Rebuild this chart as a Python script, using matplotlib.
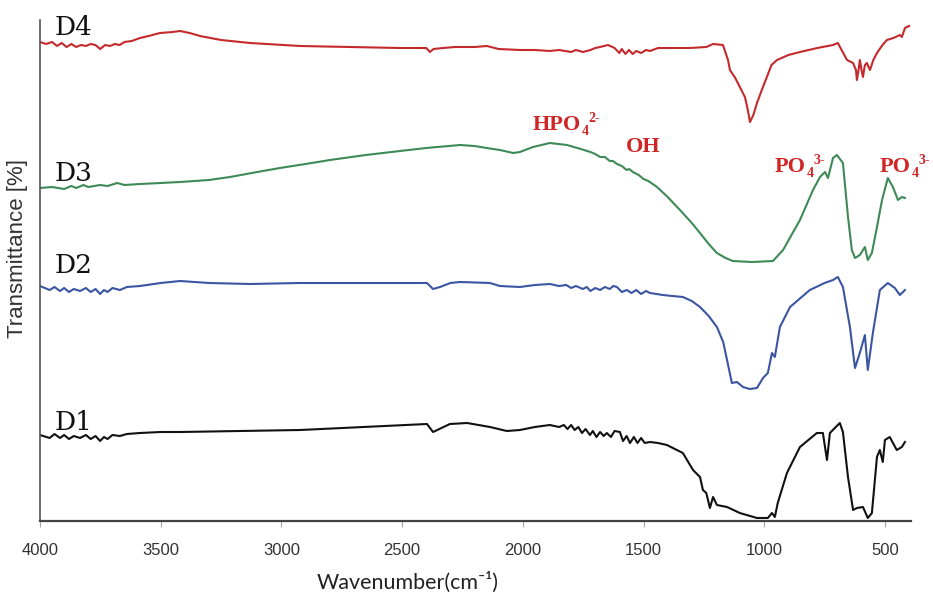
import matplotlib
matplotlib.use("Agg")
import matplotlib.pyplot as plt

# ---- data (wavenumber in cm-1, transmittance in arbitrary stacked units) ----
d4_wn = [4000, 3975, 3950, 3930, 3910, 3890, 3870, 3850, 3830, 3810, 3790, 3770, 3751, 3730, 3710,
         3690, 3670, 3650, 3620, 3586, 3550, 3503, 3450, 3420, 3380, 3337, 3250, 3130, 2923, 2716,
         2509, 2400, 2385, 2370, 2330, 2281, 2200, 2149, 2100, 2012, 1950, 1888, 1850, 1800, 1780,
         1751, 1720, 1700, 1680, 1647, 1620, 1600, 1590, 1575, 1560, 1545, 1530, 1510, 1490, 1473,
         1440, 1403, 1308, 1240, 1212, 1171, 1150, 1142, 1120, 1101, 1080, 1068, 1059, 1045, 1030,
         1010, 989, 970, 947, 900, 852, 780, 715, 695, 675, 657, 632, 620, 616, 608,
         604, 597, 591, 583, 575, 562, 548, 533, 510, 492, 465, 438, 430, 417, 400]
d4_t = [558, 556, 558, 554, 557, 553, 556, 553, 555, 554, 556, 555, 551, 555, 554,
        556, 555, 558, 559, 562, 564, 567, 568, 569, 567, 564, 560, 557, 554, 553,
        552, 552, 548, 551, 552, 553, 553, 554, 551, 550, 550, 549, 550, 548, 550,
        548, 550, 552, 553, 555, 552, 547, 551, 546, 550, 546, 549, 547, 550, 549,
        552, 552, 552, 553, 556, 555, 540, 530, 522, 513, 503, 490, 478, 485, 497,
        510, 523, 535, 540, 545, 548, 552, 555, 557, 548, 540, 537, 530, 520, 532,
        540, 530, 523, 535, 537, 530, 540, 547, 555, 560, 562, 565, 563, 572, 574]

d3_wn = [4000, 3950, 3900, 3870, 3850, 3820, 3800, 3751, 3720, 3680, 3650, 3586, 3500, 3420, 3300,
         3213, 3100, 3006, 2900, 2799, 2650, 2509, 2400, 2260, 2200, 2150, 2095, 2040, 2012, 1958,
         1888, 1817, 1760, 1720, 1700, 1680, 1660, 1640, 1627, 1610, 1590, 1570, 1560, 1544, 1520,
         1500, 1480, 1444, 1400, 1349, 1300, 1266, 1230, 1196, 1160, 1130, 1050, 964, 922, 852,
         798, 769, 748, 736, 715, 699, 674, 653, 637, 624, 604, 583, 571, 554, 533,
         512, 488, 467, 446, 430, 417]
d3_t = [412, 413, 411, 414, 412, 415, 413, 415, 414, 417, 415, 416, 417, 418, 420,
        423, 428, 432, 436, 440, 445, 449, 452, 455, 454, 452, 450, 447, 448, 453,
        457, 455, 451, 448, 446, 443, 443, 439, 439, 436, 434, 430, 431, 428, 425,
        421, 419, 413, 403, 390, 377, 367, 356, 347, 342, 339, 338, 339, 350, 380,
        410, 423, 428, 422, 442, 445, 437, 383, 350, 342, 345, 353, 340, 347, 373,
        400, 422, 413, 400, 403, 402]

d2_wn = [4000, 3960, 3940, 3917, 3900, 3880, 3860, 3834, 3810, 3790, 3770, 3751, 3735, 3720, 3700,
         3669, 3640, 3586, 3500, 3420, 3300, 3130, 2923, 2600, 2397, 2372, 2343, 2300, 2260, 2136,
         2095, 2012, 1950, 1888, 1850, 1820, 1800, 1780, 1751, 1735, 1720, 1700, 1680, 1660, 1640,
         1625, 1610, 1590, 1569, 1550, 1530, 1510, 1490, 1473, 1420, 1380, 1337, 1300, 1266, 1230,
         1196, 1170, 1154, 1134, 1113, 1088, 1060, 1030, 1005, 985, 968, 956, 935, 893, 811,
         750, 715, 695, 674, 645, 624, 604, 583, 571, 550, 521, 488, 459, 438, 417]
d2_t = [314, 310, 313, 309, 312, 308, 311, 309, 312, 308, 311, 306, 310, 308, 312,
        310, 313, 314, 317, 319, 317, 316, 317, 317, 317, 311, 313, 317, 318, 317,
        314, 313, 315, 316, 314, 315, 312, 314, 311, 313, 309, 312, 310, 313, 311,
        314, 313, 308, 310, 307, 310, 306, 309, 307, 305, 304, 303, 299, 293, 284,
        273, 258, 240, 217, 218, 213, 211, 212, 222, 227, 247, 243, 273, 293, 310,
        317, 320, 323, 313, 273, 232, 247, 265, 230, 267, 310, 317, 312, 305, 310]

d1_wn = [4000, 3960, 3940, 3917, 3900, 3880, 3860, 3834, 3810, 3790, 3770, 3751, 3735, 3720, 3700,
         3669, 3640, 3586, 3500, 3420, 2923, 2397, 2372, 2302, 2231, 2136, 2066, 2012, 1950, 1888,
         1850, 1830, 1815, 1800, 1785, 1770, 1755, 1740, 1722, 1710, 1695, 1680, 1665, 1652, 1635,
         1620, 1598, 1585, 1570, 1556, 1540, 1525, 1510, 1495, 1473, 1440, 1403, 1362, 1337, 1295,
         1266, 1254, 1240, 1225, 1212, 1196, 1154, 1101, 1030, 985, 968, 956, 944, 906, 852,
         782, 757, 740, 728, 687, 674, 653, 632, 616, 591, 571, 554, 533, 521, 509,
         500, 480, 451, 430, 417]
d1_t = [165, 162, 166, 162, 165, 161, 164, 162, 165, 161, 164, 159, 163, 161, 165,
        164, 166, 167, 168, 168, 170, 176, 168, 176, 177, 173, 169, 170, 173, 175,
        173, 175, 171, 175, 170, 173, 167, 171, 165, 169, 163, 168, 164, 167, 163,
        169, 168, 159, 164, 157, 163, 157, 162, 157, 158, 157, 155, 150, 147, 130,
        123, 110, 107, 92, 103, 95, 93, 87, 82, 82, 87, 83, 97, 127, 153,
        167, 167, 140, 167, 177, 168, 123, 90, 92, 93, 82, 87, 143, 150, 138,
        160, 163, 150, 153, 158]

series_names = ["D4", "D3", "D2", "D1"]
x_ticks = [4000, 3500, 3000, 2500, 2000, 1500, 1000, 500]
band_labels = [("HPO", "4", "2-"), ("OH", "", ""), ("PO", "4", "3-"), ("PO", "4", "3-")]

# ---- figure ----
W, H = 933, 601
fig = plt.figure(figsize=(W / 100, H / 100), dpi=100)
ax = fig.add_axes([40 / W, (H - 521) / H, 871 / W, 501 / H])

colors = ["#c42a2c", "#3e8a57", "#3b55a2", "#111111"]
for wn, t, c in zip([d4_wn, d3_wn, d2_wn, d1_wn], [d4_t, d3_t, d2_t, d1_t], colors):
    ax.plot(wn, t, color=c, lw=1.5, solid_joinstyle="round")

ax.set_xlim(4000, 392)
ax.set_ylim(79, 580)
ax.set_yticks([])
ax.set_xticks(x_ticks)
ax.set_xticklabels([str(v) for v in x_ticks],
                   fontfamily=["Liberation Sans Narrow", "Liberation Sans"], fontsize=12, color="#333333")
ax.tick_params(axis="x", length=4, width=0.8, color="#aaaaaa", pad=12)
for s in ["top", "right"]:
    ax.spines[s].set_visible(False)
ax.spines["left"].set_color("#555555")
ax.spines["left"].set_linewidth(1.2)
ax.spines["bottom"].set_color("#444444")
ax.spines["bottom"].set_linewidth(1.6)

def ftext(px, py, s, **kw):
    return fig.text(px / W, 1 - py / H, s, **kw)

# sample labels
label_pos = [(55, 35), (55, 181), (55, 273), (55, 430)]
for name, (px, py) in zip(series_names, label_pos):
    ftext(px, py, name, fontfamily="DejaVu Serif", fontsize=19, va="baseline", ha="left", color="#111111")

# axis labels
ftext(18, 248, "Transmittance [%]", rotation=90, fontfamily="Liberation Sans", fontsize=16,
      va="center", ha="center", color="#333333")
ftext(408, 582, "Wavenumber(cm\u207b\u00b9)", fontfamily=["Lato", "DejaVu Sans"], fontsize=15.5,
      va="center", ha="center", color="#222222")

# band annotations (main text, subscript, superscript)
red = "#d02525"
renderer = fig.canvas.get_renderer()
band_pos = [(533, 130), (626, 152), (775, 172), (880, 172)]
afont = dict(fontfamily="Liberation Serif", fontweight="bold", color=red, va="baseline", ha="left")
for (main, sub, sup), (px, py) in zip(band_labels, band_pos):
    t = ftext(px, py, main, fontsize=16, **afont)
    x1 = t.get_window_extent(renderer).x1
    if sub:
        ts = fig.text((x1 + 0.3) / W, 1 - (py + 5) / H, sub, fontsize=10, **afont)
        x2 = ts.get_window_extent(renderer).x1
        fig.text((x2 + 0.3) / W, 1 - (py - 8) / H, sup, fontsize=10, **afont)

fig.savefig("out.png", dpi=100, facecolor="white")
